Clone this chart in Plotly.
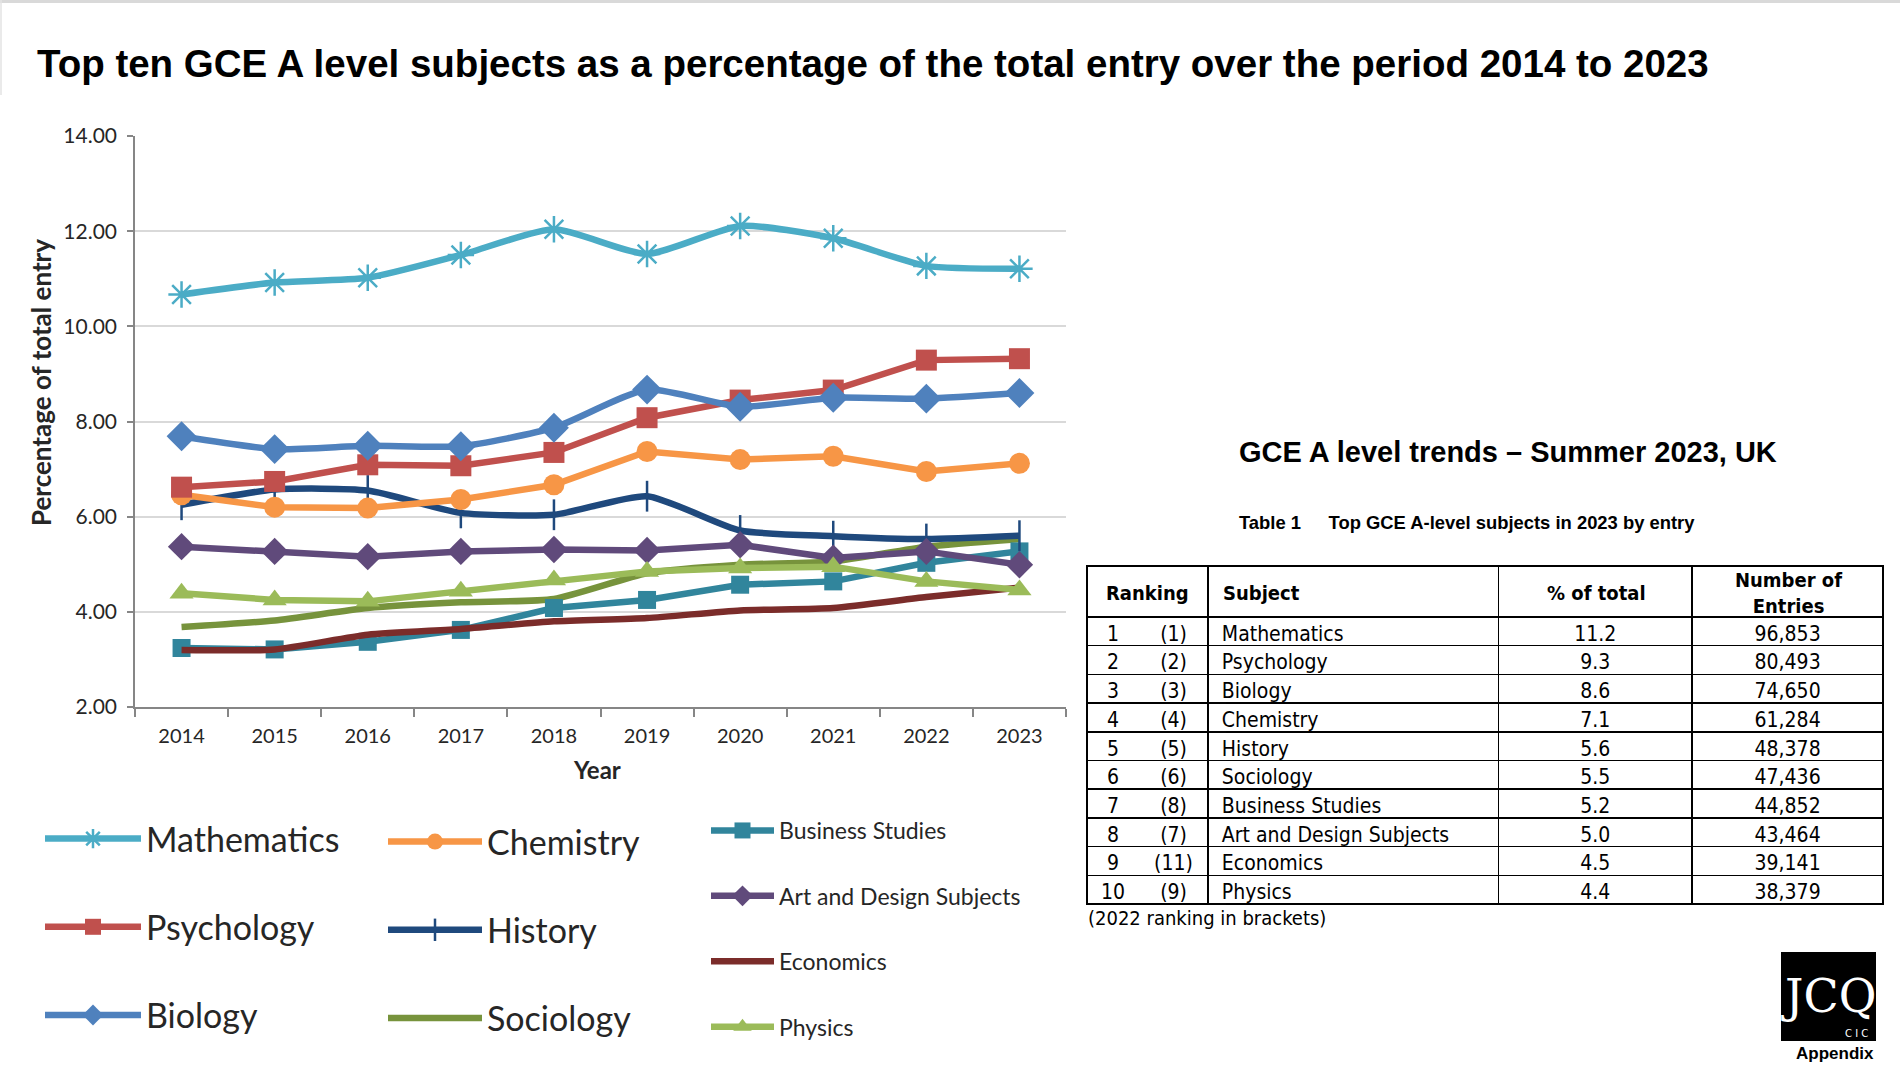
import plotly.graph_objects as go

# ---------------- data ----------------
years = ["2014", "2015", "2016", "2017", "2018", "2019", "2020", "2021", "2022", "2023"]

mathematics = [10.67, 10.92, 11.02, 11.50, 12.04, 11.52, 12.11, 11.85, 11.27, 11.21]
psychology = [6.62, 6.74, 7.09, 7.07, 7.35, 8.08, 8.45, 8.66, 9.29, 9.32]
biology = [7.69, 7.42, 7.49, 7.48, 7.87, 8.67, 8.31, 8.50, 8.48, 8.60]
chemistry = [6.46, 6.20, 6.18, 6.36, 6.67, 7.37, 7.20, 7.27, 6.95, 7.12]
history = [6.25, 6.57, 6.55, 6.08, 6.04, 6.43, 5.71, 5.59, 5.53, 5.60]
sociology = [3.68, 3.82, 4.08, 4.20, 4.27, 4.81, 4.99, 5.06, 5.37, 5.53]
business_studies = [3.24, 3.21, 3.37, 3.62, 4.08, 4.25, 4.57, 4.64, 5.03, 5.27]
art_design = [5.37, 5.27, 5.16, 5.27, 5.31, 5.29, 5.41, 5.13, 5.27, 4.99]
economics = [3.20, 3.21, 3.52, 3.64, 3.80, 3.87, 4.03, 4.08, 4.31, 4.51]
physics = [4.39, 4.25, 4.22, 4.43, 4.67, 4.85, 4.92, 4.95, 4.64, 4.46]

y_ticks = [2, 4, 6, 8, 10, 12, 14]

table_header = ["Ranking", "Subject", "% of total", "Number of<br>Entries"]
table_rank = ["1", "2", "3", "4", "5", "6", "7", "8", "9", "10"]
table_rank_2022 = ["(1)", "(2)", "(3)", "(4)", "(5)", "(6)", "(8)", "(7)", "(11)", "(9)"]
table_subject = ["Mathematics", "Psychology", "Biology", "Chemistry", "History", "Sociology",
                 "Business Studies", "Art and Design Subjects", "Economics", "Physics"]
table_pct = ["11.2", "9.3", "8.6", "7.1", "5.6", "5.5", "5.2", "5.0", "4.5", "4.4"]
table_entries = ["96,853", "80,493", "74,650", "61,284", "48,378", "47,436",
                 "44,852", "43,464", "39,141", "38,379"]

# ---------------- geometry helpers ----------------
W, H = 1900, 1070


def px(x):
    return x / W


def py(y):
    return 1 - y / H


fig = go.Figure()

# (name, values, color, symbol, size, shape, legend, rank)
series = [
    ("Sociology", sociology, "#77933C", None, 0, "spline", "legend2", 3),
    ("Business Studies", business_studies, "#31859C", "square", 18, "linear", "legend3", 1),
    ("History", history, "#1F497D", "line-ns-open", 22, "spline", "legend2", 2),
    ("Chemistry", chemistry, "#F79646", "circle", 21, "linear", "legend2", 1),
    ("Psychology", psychology, "#C0504D", "square", 21, "linear", "legend", 2),
    ("Biology", biology, "#4F81BD", "diamond", 23, "spline", "legend", 3),
    ("Art and Design Subjects", art_design, "#604A7B", "diamond", 21, "linear", "legend3", 2),
    ("Economics", economics, "#7B2C2A", None, 0, "spline", "legend3", 3),
    ("Physics", physics, "#9BBB59", "triangle-up", 21, "linear", "legend3", 4),
    ("Mathematics", mathematics, "#4BACC6", "asterisk-open", 22, "spline", "legend", 1),
]

for name, vals, color, symbol, size, shape, leg, rank in series:
    if symbol is None:
        mode = "lines"
        marker = None
    else:
        mode = "lines+markers"
        if symbol.endswith("-open"):
            marker = dict(symbol=symbol, size=size, color=color, line=dict(color=color, width=2.5))
        else:
            marker = dict(symbol=symbol, size=size, color=color, line=dict(width=0))
    fig.add_trace(go.Scatter(
        x=years, y=vals, name=name, mode=mode,
        line=dict(color=color, width=6.5, shape=shape, smoothing=0.6),
        marker=marker, legend=leg, legendrank=rank, legendgroup=name,
    ))

# ---------------- table ----------------
tbl_top, hdr_h, row_h = 566, 51, 28.7
tbl_bottom = tbl_top + hdr_h + 10 * row_h
tfont = "DejaVu Sans Condensed, DejaVu Sans, sans-serif"
col_edges = [1087, 1208, 1499, 1693, 1884]

fig.add_trace(go.Table(
    domain=dict(x=[px(col_edges[0]), px(col_edges[-1])], y=[py(tbl_bottom + 1), py(tbl_top)]),
    columnwidth=[col_edges[i + 1] - col_edges[i] for i in range(4)],
    header=dict(
        values=["", "", "", ""],
        height=hdr_h, line=dict(color="black", width=1.5), fill=dict(color="white"),
    ),
    cells=dict(
        values=[[""] * 10, [" " + s for s in table_subject], table_pct, table_entries],
        align=["center", "left", "center", "center"],
        font=dict(family=tfont, size=21, color="black"),
        height=row_h, line=dict(color="black", width=1.5), fill=dict(color="white"),
    ),
))

fig.add_trace(go.Table(
    domain=dict(x=[px(1087), px(1208)], y=[py(tbl_bottom + 1), py(tbl_top)]),
    columnwidth=[52, 69],
    header=dict(values=["", ""], height=hdr_h,
                line=dict(color="rgba(0,0,0,0)", width=0), fill=dict(color="rgba(0,0,0,0)")),
    cells=dict(
        values=[table_rank, table_rank_2022],
        align=["center", "center"],
        font=dict(family=tfont, size=21, color="black"),
        height=row_h, line=dict(color="rgba(0,0,0,0)", width=0), fill=dict(color="rgba(0,0,0,0)"),
    ),
))

# ---------------- layout ----------------
axis_grey = "#868686"
fig.update_layout(
    width=W, height=H,
    margin=dict(l=0, r=0, t=0, b=0, autoexpand=False),
    paper_bgcolor="white", plot_bgcolor="white",
    font=dict(family="Lato, sans-serif", color="#262626"),
    xaxis=dict(
        domain=[px(135), px(1066)], type="category", categoryorder="array", categoryarray=years,
        range=[-0.5, 9.5], tickson="boundaries", ticks="outside", ticklen=8, tickwidth=1.5,
        tickcolor=axis_grey, showline=True, linecolor=axis_grey, linewidth=1.5, showgrid=False,
        tickfont=dict(size=20, color="#262626"), ticklabelstandoff=10, automargin=False,
    ),
    yaxis=dict(
        domain=[py(707), py(136)], range=[2, 14], tickvals=y_ticks, tickformat=".2f",
        ticks="outside", ticklen=6, tickwidth=1.5, tickcolor=axis_grey,
        showline=True, linecolor=axis_grey, linewidth=1.5,
        showgrid=True, gridcolor="#D9D9D9", gridwidth=1.5, zeroline=False,
        tickfont=dict(size=21, color="#262626"), ticklabelstandoff=6, automargin=False,
    ),
    legend=dict(x=px(40), y=py(810), xanchor="left", yanchor="top", bgcolor="rgba(0,0,0,0)",
                font=dict(family="Lato, sans-serif", size=34, color="#262626"),
                tracegroupgap=41, itemwidth=96, traceorder="grouped"),
    legend2=dict(x=px(383), y=py(813), xanchor="left", yanchor="top", bgcolor="rgba(0,0,0,0)",
                 font=dict(family="Lato, sans-serif", size=34, color="#262626"),
                 tracegroupgap=41, itemwidth=94, traceorder="grouped"),
    legend3=dict(x=px(706), y=py(809), xanchor="left", yanchor="top", bgcolor="rgba(0,0,0,0)",
                 font=dict(family="Lato, sans-serif", size=23, color="#262626"),
                 tracegroupgap=32.5, itemwidth=63, traceorder="grouped"),
)

# ---------------- texts ----------------
hdr_y = py(tbl_top + hdr_h / 2 + 1)
ann = [
    dict(text="<b>Top ten GCE A level subjects as a percentage of the total entry over the period 2014 to 2023</b>",
         x=px(35), y=py(63), xanchor="left", yanchor="middle",
         font=dict(family="Liberation Sans, Arial, sans-serif", size=38.5, color="black")),
    dict(text="<b>Percentage of total entry</b>", x=px(41), y=py(383), xanchor="center", yanchor="middle",
         textangle=-90, font=dict(family="Lato, sans-serif", size=26, color="#262626")),
    dict(text="<b>Year</b>", x=px(597), y=py(769), xanchor="center", yanchor="middle",
         font=dict(family="Lato, sans-serif", size=24, color="#262626")),
    dict(text="<b>GCE A level trends \u2013 Summer 2023, UK</b>",
         x=px(1237), y=py(452), xanchor="left", yanchor="middle",
         font=dict(family="Liberation Sans, Arial, sans-serif", size=29, color="black")),
    dict(text="<b>Table 1\u2003\u2002Top GCE A-level subjects in 2023 by entry</b>",
         x=px(1237), y=py(522), xanchor="left", yanchor="middle",
         font=dict(family="Liberation Sans, Arial, sans-serif", size=18.4, color="black")),
    dict(text="<b>" + table_header[0] + "</b>", x=px((col_edges[0] + col_edges[1]) / 2), y=hdr_y,
         xanchor="center", yanchor="middle", font=dict(family=tfont, size=20, color="black")),
    dict(text="<b>" + table_header[1] + "</b>", x=px(col_edges[1] + 13), y=hdr_y,
         xanchor="left", yanchor="middle", font=dict(family=tfont, size=20, color="black")),
    dict(text="<b>" + table_header[2] + "</b>", x=px((col_edges[2] + col_edges[3]) / 2), y=hdr_y,
         xanchor="center", yanchor="middle", font=dict(family=tfont, size=20, color="black")),
    dict(text="<b>" + table_header[3] + "</b>", x=px((col_edges[3] + col_edges[4]) / 2), y=hdr_y,
         xanchor="center", yanchor="middle", font=dict(family=tfont, size=20, color="black")),
    dict(text="(2022 ranking in brackets)", x=px(1086), y=py(918), xanchor="left", yanchor="middle",
         font=dict(family=tfont, size=20, color="black")),
    dict(text="JCQ", x=px(1828), y=py(996), xanchor="center", yanchor="middle",
         font=dict(family="DejaVu Serif, Liberation Serif, serif", size=46, color="white")),
    dict(text="C I C", x=px(1856), y=py(1033), xanchor="center", yanchor="middle",
         font=dict(family="DejaVu Sans, sans-serif", size=10, color="white")),
    dict(text="<b>Appendix</b>", x=px(1876), y=py(1053), xanchor="right", yanchor="middle",
         font=dict(family="Liberation Sans, Arial, sans-serif", size=17, color="black")),
]
for a in ann:
    fig.add_annotation(xref="paper", yref="paper", showarrow=False, **a)

fig.add_shape(type="rect", xref="paper", yref="paper", x0=px(1781), x1=px(1876), y0=py(1041), y1=py(952),
              fillcolor="black", line=dict(width=0), layer="below")
fig.add_shape(type="rect", xref="paper", yref="paper", x0=0, x1=1, y0=py(3), y1=1,
              fillcolor="#D9D9D9", line=dict(width=0), layer="below")
fig.add_shape(type="line", xref="paper", yref="paper", x0=px(1), x1=px(1), y0=py(95), y1=1,
              line=dict(color="#E3E3E3", width=1.5), layer="below")

fig.write_html("out.html", config={"displayModeBar": False},
               post_script="document.body.style.margin='0';document.body.style.overflow='hidden';")
